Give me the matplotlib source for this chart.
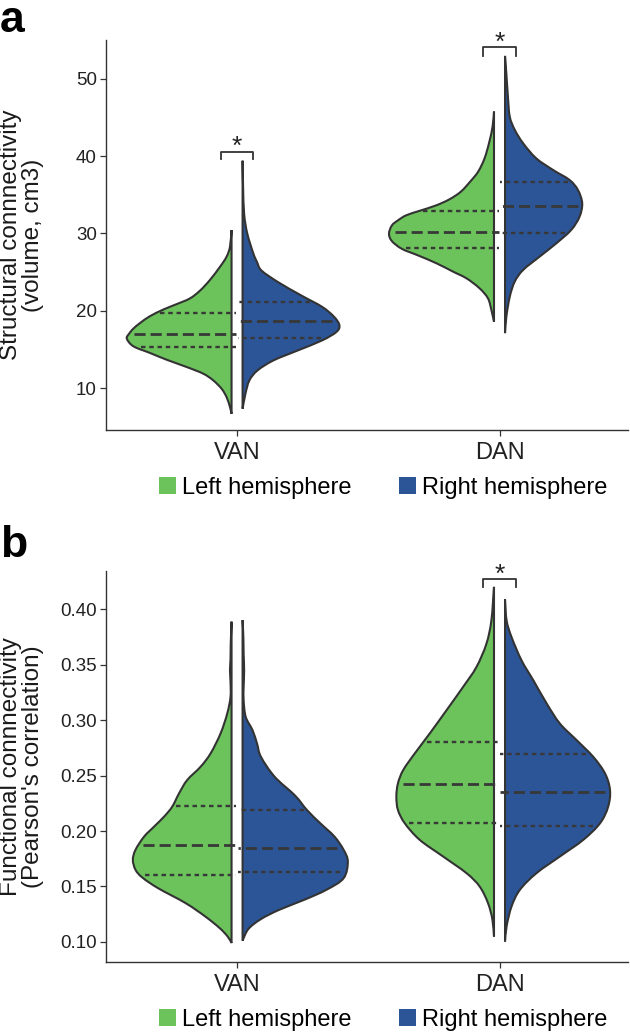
import matplotlib
matplotlib.use("Agg")
import matplotlib.pyplot as plt
from matplotlib.path import Path
from matplotlib.patches import PathPatch, Patch
import numpy as np

plt.rcParams['font.family'] = ['Liberation Sans', 'DejaVu Sans']

# === COLOURS / STYLE ===
GREEN = '#6CC35B'
BLUE = '#2C5597'
EDGE = '#333333'
QLINE = '#383838'
GAP = 0.021          # half gap between the two halves of a split violin

# === DATA ===
categories = ['VAN', 'DAN']
hemispheres = ['Left hemisphere', 'Right hemisphere']

# panel a: structural connectivity, density outline (value, half width)
a_van_left_y = [6.67, 7.54, 8.83, 9.91, 11.0, 11.86, 12.72, 13.67, 14.54, 15.40, 16.39, 17.04,
                17.69, 18.42, 19.29, 20.15, 20.84, 21.58, 22.57, 23.95, 25.68, 26.98, 28.27, 30.43]
a_van_left_w = [0, 0.006, 0.019, 0.038, 0.070, 0.108, 0.171, 0.248, 0.311, 0.374, 0.399, 0.39,
                0.374, 0.348, 0.311, 0.26, 0.21, 0.159, 0.121, 0.083, 0.044, 0.019, 0.006, 0]
a_van_right_y = [7.33, 9.27, 10.99, 12.28, 13.58, 14.87, 16.16, 17.24, 18.1, 19.2, 20.5, 22.0,
                 23.7, 25.2, 26.3, 27.4, 29.96, 32.5, 36.0, 39.4]
a_van_right_w = [0, 0.011, 0.026, 0.057, 0.118, 0.211, 0.303, 0.357, 0.369, 0.349, 0.303, 0.222,
                 0.135, 0.072, 0.055, 0.041, 0.018, 0.006, 0.002, 0]
a_dan_left_y = [18.58, 20.1, 21.6, 22.9, 24.19, 25.05, 26.13, 27.16, 28.0, 29.0, 29.96, 31.03,
                31.68, 32.33, 32.9, 33.6, 34.4, 35.4, 36.8, 38.0, 39.7, 41.8, 43.9, 45.75]
a_dan_left_w = [0, 0.010, 0.023, 0.055, 0.105, 0.156, 0.219, 0.29, 0.351, 0.389, 0.40, 0.389,
                0.366, 0.335, 0.285, 0.222, 0.17, 0.126, 0.088, 0.06, 0.036, 0.018, 0.005, 0]
a_dan_right_y = [17.1, 19.2, 21.8, 23.76, 25.27, 27.0, 28.7, 30.44, 32.16, 33.9, 35.6, 36.9,
                 38.2, 39.7, 41.65, 43.4, 45.1, 47.7, 50.7, 52.95]
a_dan_right_w = [0, 0.005, 0.018, 0.037, 0.069, 0.132, 0.195, 0.252, 0.284, 0.294, 0.278, 0.246,
                 0.183, 0.119, 0.069, 0.037, 0.018, 0.011, 0.005, 0]

# quartiles (25%, 50%, 75%)
a_van_left_q = [15.27, 17.05, 19.7]
a_van_right_q = [16.43, 18.63, 21.1]
a_dan_left_q = [28.05, 30.24, 32.92]
a_dan_right_q = [30.05, 33.58, 36.6]

# panel b: functional connectivity
b_van_left_y = [0.0989, 0.1048, 0.1123, 0.1228, 0.1349, 0.1484, 0.158, 0.165, 0.174, 0.183, 0.195,
                0.204, 0.213, 0.222, 0.234, 0.246, 0.258, 0.270, 0.288, 0.306, 0.321, 0.335,
                0.345, 0.355, 0.37, 0.389]
b_van_left_w = [0, 0.015, 0.045, 0.10, 0.175, 0.28, 0.34, 0.366, 0.376, 0.366, 0.333,
                0.295, 0.257, 0.226, 0.20, 0.169, 0.118, 0.080, 0.042, 0.0165, 0.004, 0.004,
                0.006, 0.004, 0.003, 0]
b_van_right_y = [0.101, 0.1115, 0.1205, 0.1289, 0.1379, 0.147, 0.1574, 0.1724, 0.183, 0.195,
                 0.207, 0.219, 0.232, 0.249, 0.267, 0.279, 0.291, 0.303, 0.318, 0.33, 0.345,
                 0.36, 0.375, 0.3904]
b_van_right_w = [0, 0.022, 0.07, 0.14, 0.235, 0.32, 0.385, 0.401, 0.385, 0.35,
                 0.296, 0.245, 0.2, 0.122, 0.07, 0.055, 0.038, 0.012, 0.004, 0.004, 0.006,
                 0.004, 0.003, 0]
b_dan_left_y = [0.1048, 0.120, 0.135, 0.150, 0.162, 0.177, 0.192, 0.207, 0.219, 0.231, 0.243,
                0.255, 0.270, 0.288, 0.309, 0.330, 0.348, 0.369, 0.390, 0.4204]
b_dan_left_w = [0, 0.006, 0.023, 0.055, 0.105, 0.194, 0.283, 0.340, 0.366, 0.372, 0.366,
                0.346, 0.302, 0.245, 0.181, 0.118, 0.067, 0.029, 0.010, 0]
b_dan_right_y = [0.1003, 0.114, 0.132, 0.147, 0.162, 0.177, 0.192, 0.207, 0.222, 0.237, 0.252,
                 0.267, 0.282, 0.297, 0.315, 0.336, 0.354, 0.375, 0.390, 0.409]
b_dan_right_w = [0, 0.006, 0.025, 0.057, 0.120, 0.209, 0.298, 0.362, 0.393, 0.400, 0.381,
                 0.336, 0.273, 0.209, 0.159, 0.108, 0.063, 0.025, 0.006, 0]

b_van_left_q = [0.1604, 0.1875, 0.2226]
b_van_right_q = [0.1628, 0.185, 0.2188]
b_dan_left_q = [0.207, 0.2427, 0.2806]
b_dan_right_q = [0.2045, 0.2354, 0.2697]

# significance brackets: (category index, bracket top, leg bottom)
a_sig = [(0, 40.58, 39.6), (1, 54.07, 53.0)]
b_sig = [(1, 0.4273, 0.4204)]


def smooth_outline(xs, ys):
    # catmull-rom through the read points, then straight back down the inner edge
    pts = np.column_stack([xs, ys])
    n = len(pts)
    verts = [pts[0]]
    codes = [Path.MOVETO]
    for i in range(n - 1):
        p_prev = pts[max(i - 1, 0)]
        p0 = pts[i]
        p1 = pts[i + 1]
        p_next = pts[min(i + 2, n - 1)]
        verts += [p0 + (p1 - p_prev) / 6, p1 - (p_next - p0) / 6, p1]
        codes += [Path.CURVE4] * 3
    verts += [pts[0], pts[0]]
    codes += [Path.LINETO, Path.CLOSEPOLY]
    return Path(verts, codes)


def half_violin(ax, cx, side, ys, ws, quart, color):
    ys = np.asarray(ys)
    ws = np.asarray(ws)
    inner = cx + side * GAP
    path = smooth_outline(inner + side * ws, ys)
    ax.add_patch(PathPatch(path, facecolor=color, edgecolor=EDGE, lw=1.5, zorder=2))
    for k, q in enumerate(quart):
        w = np.interp(q, ys, ws) * 0.95
        x0 = cx + side * 0.003
        x1 = inner + side * w
        if k == 1:
            ax.plot([x1, x0], [q, q], color=QLINE, lw=2.0, ls=(0, (4.0, 1.8)),
                    solid_capstyle='butt', zorder=3)
        else:
            ax.plot([x1, x0], [q, q], color=QLINE, lw=1.7, ls=(0, (1.9, 1.6)),
                    solid_capstyle='butt', zorder=3)


def style_axes(ax):
    for s in ['top', 'right']:
        ax.spines[s].set_visible(False)
    for s in ['left', 'bottom']:
        ax.spines[s].set_color(EDGE)
        ax.spines[s].set_linewidth(1.0)
    ax.tick_params(axis='y', length=4.5, width=0.9, color=EDGE, pad=2, labelsize=13.5,
                   labelcolor='#222222')
    ax.tick_params(axis='x', length=4.5, width=0.9, color=EDGE, pad=4, labelsize=17,
                   labelcolor='#222222')
    ax.set_xticks(range(len(categories)))
    ax.set_xticklabels(categories)
    ax.set_xlim(-0.5, 1.49)


def add_sig(ax, sigs, star_y_off):
    for ci, top, leg in sigs:
        ax.plot([ci - 0.063, ci - 0.063, ci + 0.062, ci + 0.062], [leg, top, top, leg],
                color=EDGE, lw=1.3, clip_on=False, zorder=4)
        ax.annotate('*', (ci, top), xytext=(0, star_y_off), textcoords='offset points',
                    ha='center', va='baseline', fontsize=19, color='#222222',
                    annotation_clip=False)


def add_legend(ax):
    handles = [Patch(facecolor=GREEN, edgecolor='none', label=hemispheres[0]),
               Patch(facecolor=BLUE, edgecolor='none', label=hemispheres[1])]
    ax.legend(handles=handles, loc='center', bbox_to_anchor=(0.531, -0.149), ncol=2,
              frameon=False, fontsize=17, handlelength=0.72, handleheight=0.72,
              handletextpad=0.25, columnspacing=2.0, borderaxespad=0, borderpad=0)


fig = plt.figure(figsize=(6.3, 10.32), dpi=100)
ax_a = fig.add_axes([0.168, 0.5833, 0.829, 0.3779])
ax_b = fig.add_axes([0.168, 0.0681, 0.829, 0.3789])

# panel a
half_violin(ax_a, 0, -1, a_van_left_y, a_van_left_w, a_van_left_q, GREEN)
half_violin(ax_a, 0, 1, a_van_right_y, a_van_right_w, a_van_right_q, BLUE)
half_violin(ax_a, 1, -1, a_dan_left_y, a_dan_left_w, a_dan_left_q, GREEN)
half_violin(ax_a, 1, 1, a_dan_right_y, a_dan_right_w, a_dan_right_q, BLUE)
style_axes(ax_a)
ax_a.set_ylim(4.57, 55.0)
ax_a.set_yticks([10, 20, 30, 40, 50])
add_sig(ax_a, a_sig, -2)
add_legend(ax_a)
ax_a.text(-0.16, 0.5, 'Structural connnectivity\n(volume, cm3)', transform=ax_a.transAxes,
          rotation=90, ha='center', va='center', fontsize=17.5, linespacing=1.0,
          color='#1a1a1a')

# panel b
half_violin(ax_b, 0, -1, b_van_left_y, b_van_left_w, b_van_left_q, GREEN)
half_violin(ax_b, 0, 1, b_van_right_y, b_van_right_w, b_van_right_q, BLUE)
half_violin(ax_b, 1, -1, b_dan_left_y, b_dan_left_w, b_dan_left_q, GREEN)
half_violin(ax_b, 1, 1, b_dan_right_y, b_dan_right_w, b_dan_right_q, BLUE)
style_axes(ax_b)
ax_b.set_ylim(0.082, 0.435)
ax_b.set_yticks([0.10, 0.15, 0.20, 0.25, 0.30, 0.35, 0.40])
ax_b.set_yticklabels(['%.2f' % t for t in ax_b.get_yticks()])
add_sig(ax_b, b_sig, -2)
add_legend(ax_b)
ax_b.text(-0.16, 0.5, "Functional connnectivity\n(Pearson's correlation)",
          transform=ax_b.transAxes, rotation=90, ha='center', va='center', fontsize=17.5,
          linespacing=1.0, color='#1a1a1a')

fig.text(0.0, 1.0, 'a', fontsize=32, fontweight='bold', ha='left', va='top')
fig.text(0.0, 1 - 557 / 1032, 'b', fontsize=32, fontweight='bold', ha='left', va='baseline')

fig.savefig('out.png', dpi=100)
